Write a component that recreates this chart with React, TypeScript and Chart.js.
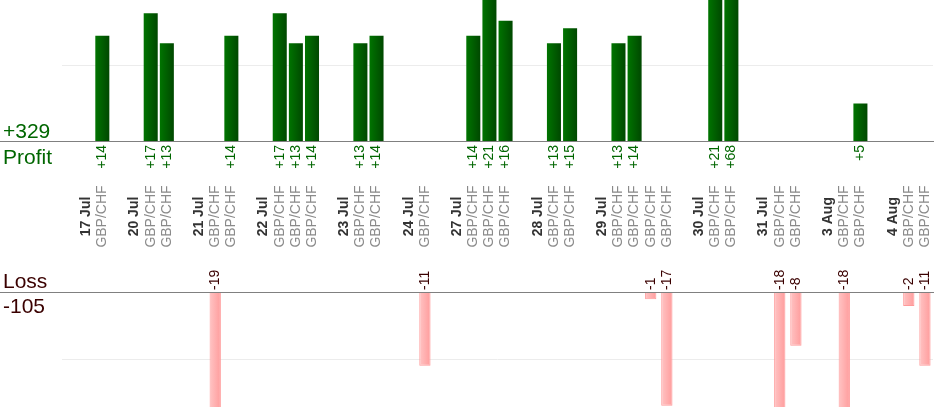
import { useEffect, useRef } from "react";
import { Chart, registerables } from "chart.js";

Chart.register(...registerables);

// trading days and the result of each trade on that day (pips)
const dates = ["17 Jul", "20 Jul", "21 Jul", "22 Jul", "23 Jul", "24 Jul", "27 Jul", "28 Jul", "29 Jul", "30 Jul", "31 Jul", "3 Aug", "4 Aug"];
const pair = "GBP/CHF";
const trades = [
  [14],
  [17, 13],
  [-19, 14],
  [17, 13, 14],
  [13, 14],
  [-11],
  [14, 21, 16],
  [13, 15],
  [13, 14, -1, -17],
  [21, 68],
  [-18, -8],
  [-18, 5],
  [-2, -11],
];
const profitTicks = [10];
const lossTicks = [-10];
const profitMax = 18.75;
const lossMin = -17.2;

const FONT = "'Liberation Sans', Arial, sans-serif";
const GREEN = "#006600";
const MAROON = "#3a0000";

type Kind = "gap" | "date" | "trade";

// one x slot per gap, day label and trade
const kinds: Kind[] = [];
const slotLabels: string[] = [];
const profit: (number | null)[] = [];
const loss: (number | null)[] = [];
dates.forEach((d, i) => {
  kinds.push("gap");
  slotLabels.push("");
  profit.push(null);
  loss.push(null);
  kinds.push("date");
  slotLabels.push(d);
  profit.push(null);
  loss.push(null);
  trades[i].forEach((v) => {
    kinds.push("trade");
    slotLabels.push(pair);
    profit.push(v > 0 ? v : null);
    loss.push(v < 0 ? v : null);
  });
});

const totalProfit = profit.reduce((a: number, v) => a + (v || 0), 0);
const totalLoss = loss.reduce((a: number, v) => a + (v || 0), 0);

function barGradient(ctx: any, pct: number, c1: string, c2: string) {
  const chart = ctx.chart;
  const xs = chart.scales?.x;
  if (!chart.chartArea || !xs) return c2;
  const x = xs.getPixelForValue(ctx.dataIndex);
  const w = (xs.width / slotLabels.length) * pct;
  const g = chart.ctx.createLinearGradient(x - w / 2, 0, x + w / 2, 0);
  g.addColorStop(0, c1);
  g.addColorStop(1, c2);
  return g;
}

const labelsPlugin = {
  id: "pnlLabels",
  afterDatasetsDraw(chart: any) {
    const { ctx, scales } = chart;
    const xs = scales.x;
    const zeroP = Math.floor(scales.yP.getPixelForValue(0)) + 0.5;
    const zeroL = Math.floor(scales.yL.getPixelForValue(0)) + 0.5;
    const midY = (scales.yM.top + scales.yM.bottom) / 2 - 0.5;
    ctx.save();

    ctx.strokeStyle = "#808080";
    ctx.lineWidth = 1;
    ctx.beginPath();
    ctx.moveTo(0, zeroP);
    ctx.lineTo(chart.width, zeroP);
    ctx.moveTo(0, zeroL);
    ctx.lineTo(chart.width, zeroL);
    ctx.stroke();

    ctx.font = `21px ${FONT}`;
    ctx.textAlign = "left";
    ctx.textBaseline = "alphabetic";
    ctx.fillStyle = GREEN;
    ctx.fillText("+" + totalProfit, 3, zeroP - 4);
    ctx.fillText("Profit", 3, zeroP + 22);
    ctx.fillStyle = MAROON;
    ctx.fillText("Loss", 3, zeroL - 4.5);
    ctx.fillText(String(totalLoss), 3, zeroL + 20);

    kinds.forEach((k, i) => {
      if (k === "gap") return;
      const px = xs.getPixelForValue(i);
      ctx.save();
      ctx.translate(px, midY);
      ctx.rotate(-Math.PI / 2);
      ctx.textAlign = "center";
      ctx.textBaseline = "middle";
      if (k === "date") {
        ctx.font = `bold 14px ${FONT}`;
        ctx.fillStyle = "#333333";
      } else {
        ctx.font = `14px ${FONT}`;
        ctx.fillStyle = "#8a8a8a";
      }
      ctx.fillText(slotLabels[i], 0, 0);
      ctx.restore();

      const p = profit[i];
      const l = loss[i];
      if (p != null) {
        ctx.save();
        ctx.translate(px, zeroP + 3.5);
        ctx.rotate(-Math.PI / 2);
        ctx.font = `14px ${FONT}`;
        ctx.fillStyle = GREEN;
        ctx.textAlign = "right";
        ctx.textBaseline = "middle";
        ctx.fillText("+" + p, 0, 0);
        ctx.restore();
      }
      if (l != null) {
        ctx.save();
        ctx.translate(px, zeroL - 2.5);
        ctx.rotate(-Math.PI / 2);
        ctx.font = `14px ${FONT}`;
        ctx.fillStyle = MAROON;
        ctx.textAlign = "left";
        ctx.textBaseline = "middle";
        ctx.fillText(String(l), 0, 0);
        ctx.restore();
      }
    });
    ctx.restore();
  },
};

const hiddenAxis = {
  position: "left" as const,
  stack: "pnl",
  ticks: { display: false },
  border: { display: false },
};

export default function App() {
  const canvasRef = useRef<HTMLCanvasElement>(null);

  useEffect(() => {
    document.body.style.margin = "0";
    if (!canvasRef.current) return;
    const chart = new Chart(canvasRef.current, {
      type: "bar",
      data: {
        labels: slotLabels,
        datasets: [
          {
            label: "Profit",
            data: profit,
            yAxisID: "yP",
            barPercentage: 0.87,
            categoryPercentage: 1,
            grouped: false,
            backgroundColor: (c: any) => barGradient(c, 0.87, "#007400", "#004800"),
            borderWidth: 0,
          },
          {
            label: "Loss",
            data: loss,
            yAxisID: "yL",
            barPercentage: 0.7,
            categoryPercentage: 1,
            grouped: false,
            backgroundColor: (c: any) => barGradient(c, 0.7, "#ffc4c4", "#ff9c9c"),
            borderColor: "#ff9a9a",
            borderWidth: 1,
          },
        ],
      },
      options: {
        responsive: false,
        animation: false,
        layout: { padding: { left: 62, right: 1, top: 0, bottom: 13 } },
        plugins: {
          legend: { display: false },
          tooltip: { enabled: false },
        },
        scales: {
          x: { display: false },
          yP: {
            ...hiddenAxis,
            weight: 3,
            stackWeight: 141.3,
            min: 0,
            max: profitMax,
            grid: { color: "#ececec", drawTicks: false },
            afterBuildTicks: (s: any) => {
              s.ticks = profitTicks.map((value) => ({ value }));
            },
          },
          yM: {
            ...hiddenAxis,
            weight: 2,
            stackWeight: 151.4,
            min: 0,
            max: 1,
            grid: { display: false, drawTicks: false },
          },
          yL: {
            ...hiddenAxis,
            weight: 1,
            stackWeight: 114.3,
            min: lossMin,
            max: 0,
            grid: { color: "#ececec", drawTicks: false },
            afterBuildTicks: (s: any) => {
              s.ticks = lossTicks.map((value) => ({ value }));
            },
          },
        },
      } as any,
      plugins: [labelsPlugin],
    });
    return () => chart.destroy();
  }, []);

  return (
    <div style={{ width: 934, height: 420, background: "#ffffff" }}>
      <canvas ref={canvasRef} width={934} height={420} />
    </div>
  );
}
